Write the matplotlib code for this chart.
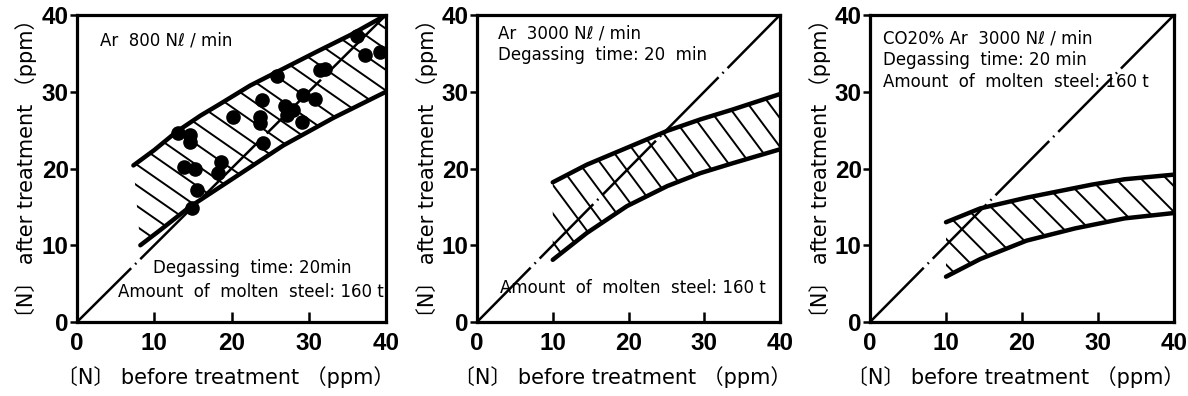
import numpy as np
import matplotlib
matplotlib.use("Agg")
import matplotlib.pyplot as plt
from matplotlib.patches import Polygon

plt.rcParams['font.family'] = ['DejaVu Sans', 'Noto Sans CJK JP']
plt.rcParams['lines.scale_dashes'] = False

# --- band limits and measurements, [N] in ppm ---
ticks = [0, 10, 20, 30, 40]
diag = [0, 40]

# Ar 800 Nl/min
up1_x = [7.3, 10, 12.9, 16, 18.5, 22.4, 26.7, 31.0, 35.4, 40]
up1_y = [20.4, 22.4, 24.8, 26.9, 28.4, 30.8, 33.0, 35.2, 37.4, 40]
lo1_x = [8.2, 10.8, 14.6, 20.2, 26.7, 33.2, 40]
lo1_y = [10.0, 12.0, 15.0, 18.7, 23.0, 26.6, 30.0]
pts_x = [13.1, 14.6, 14.6, 13.8, 15.3, 15.5, 14.9, 18.3, 18.7, 20.2, 23.9, 23.7,
         23.7, 24.1, 25.9, 26.9, 27.2, 28.0, 29.1, 29.3, 30.8, 31.5, 32.1, 36.2,
         37.3, 39.2]
pts_y = [24.6, 24.4, 23.5, 20.2, 20.0, 17.2, 14.8, 19.4, 20.9, 26.7, 28.9, 26.7,
         25.9, 23.3, 32.0, 28.1, 27.0, 27.6, 26.1, 29.6, 29.1, 32.8, 33.0, 37.2,
         34.8, 35.2]

# Ar 3000 Nl/min
up2_x = [10, 14.5, 19.8, 25.1, 29.5, 33.8, 40]
up2_y = [18.2, 20.5, 22.7, 24.9, 26.4, 27.7, 29.7]
lo2_x = [10, 14.5, 19.8, 25.1, 29.5, 33.8, 40]
lo2_y = [8.1, 11.6, 15.1, 17.7, 19.4, 20.7, 22.5]

# CO20% Ar 3000 Nl/min
up3_x = [10, 14.5, 20.6, 29.2, 33.5, 40]
up3_y = [13.0, 14.8, 16.2, 17.9, 18.6, 19.2]
lo3_x = [10, 14.5, 20.6, 27.0, 33.5, 40]
lo3_y = [5.9, 8.2, 10.6, 12.2, 13.5, 14.2]

W, H = 1188, 396
fig = plt.figure(figsize=(W / 100, H / 100), dpi=100)

boxes = [(77, 386), (477, 780), (870, 1174)]
top, bottom = 15, 322
axes = []
for l, r in boxes:
    axes.append(fig.add_axes([l / W, 1 - bottom / H, (r - l) / W, (bottom - top) / H]))


def hatch_band(ax, ux, uy, lx, ly, angle, gap_px):
    verts = list(zip(ux, uy)) + list(zip(lx[::-1], ly[::-1]))
    poly = Polygon(verts, closed=True, facecolor='none', edgecolor='none')
    ax.add_patch(poly)
    th = np.radians(angle)
    d = np.array([np.cos(th), -np.sin(th)])
    n = np.array([np.sin(th), np.cos(th)])
    g = gap_px / (ax.bbox.width)
    for c in np.arange(-2, 2, g):
        p0 = c * n - 3 * d
        p1 = c * n + 3 * d
        ln, = ax.plot([p0[0], p1[0]], [p0[1], p1[1]], transform=ax.transAxes,
                      color='black', lw=1.4, zorder=2)
        ln.set_clip_path(poly)


def setup(ax):
    ax.set_xlim(0, 40)
    ax.set_ylim(0, 40)
    ax.set_xticks(ticks)
    ax.set_yticks(ticks)
    for s in ax.spines.values():
        s.set_linewidth(2.3)
    ax.tick_params(axis='x', direction='in', length=7, width=1.8, pad=7)
    ax.tick_params(axis='y', direction='out', length=5, width=1.8, pad=1)
    for lab in ax.get_xticklabels() + ax.get_yticklabels():
        lab.set_fontfamily('Liberation Sans')
        lab.set_fontweight('bold')
        lab.set_fontsize(17.5)
    ax.set_xlabel('〔N〕 before treatment （ppm）', fontsize=15)
    ax.set_ylabel('〔N〕 after treatment （ppm）', fontsize=15)
    ax.xaxis.set_label_coords(0.48, -0.143)
    ax.yaxis.set_label_coords(-0.128, 0.5)


def diagonal(ax):
    ax.plot(diag, diag, color='black', lw=1.8, linestyle=(0, (55, 4, 1.2, 4)),
            zorder=3)


def band(ax, ux, uy, lx, ly):
    ax.plot(ux, uy, color='black', lw=3.2, solid_capstyle='round',
            solid_joinstyle='round', zorder=4)
    ax.plot(lx, ly, color='black', lw=3.2, solid_capstyle='round',
            solid_joinstyle='round', zorder=4)


tkw = dict(fontsize=12, color='black')

ax = axes[0]
setup(ax)
hatch_band(ax, up1_x, up1_y, lo1_x, lo1_y, 35, 17)
diagonal(ax)
band(ax, up1_x, up1_y, lo1_x, lo1_y)
ax.plot(pts_x, pts_y, 'o', color='black', ms=9.5, zorder=5)
ax.text(0.074, 0.918, 'Ar  800 Nℓ / min', transform=ax.transAxes, va='center', **tkw)
ax.text(0.566, 0.176, 'Degassing  time: 20min', transform=ax.transAxes,
        ha='center', va='center', **tkw)
ax.text(0.563, 0.098, 'Amount  of  molten  steel: 160 t', transform=ax.transAxes,
        ha='center', va='center', **tkw)

ax = axes[1]
setup(ax)
hatch_band(ax, up2_x, up2_y, lo2_x, lo2_y, 53, 17)
diagonal(ax)
band(ax, up2_x, up2_y, lo2_x, lo2_y)
ax.text(0.069, 0.941, 'Ar  3000 Nℓ / min', transform=ax.transAxes, va='center', **tkw)
ax.text(0.069, 0.87, 'Degassing  time: 20  min', transform=ax.transAxes, va='center', **tkw)
ax.text(0.076, 0.111, 'Amount  of  molten  steel: 160 t', transform=ax.transAxes,
        va='center', **tkw)

ax = axes[2]
setup(ax)
hatch_band(ax, up3_x, up3_y, lo3_x, lo3_y, 45, 18)
diagonal(ax)
band(ax, up3_x, up3_y, lo3_x, lo3_y)
ax.text(0.043, 0.925, 'CO20% Ar  3000 Nℓ / min', transform=ax.transAxes, va='center', **tkw)
ax.text(0.043, 0.853, 'Degassing  time: 20 min', transform=ax.transAxes, va='center', **tkw)
ax.text(0.043, 0.782, 'Amount  of  molten  steel: 160 t', transform=ax.transAxes,
        va='center', **tkw)

fig.savefig('out.png', dpi=100)
